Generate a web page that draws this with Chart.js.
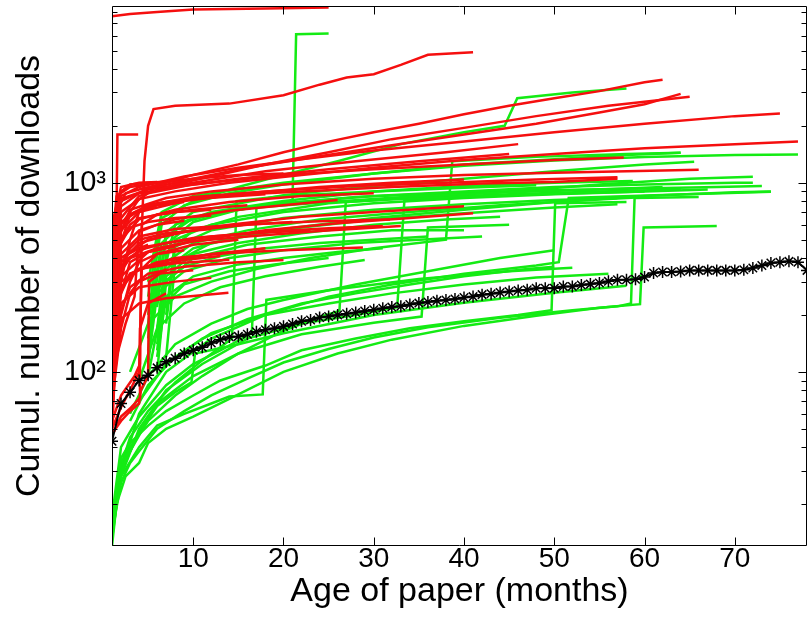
<!DOCTYPE html>
<html><head><meta charset="utf-8">
<script src="https://cdn.jsdelivr.net/npm/chart.js@4.4.1/dist/chart.umd.min.js"></script>
<style>html,body{margin:0;padding:0;background:#fff;overflow:hidden}</style>
</head><body>
<canvas id="c" width="809" height="626"></canvas>
<script>
// ---- data ----
const months = [1,2,3,4,5,6,7,8,9,10,11,12,13,14,15,16,17,18,19,20,21,22,23,24,25,26,27,28,29,30,31,32,33,34,35,36,37,38,39,40,41,42,43,44,45,46,47,48,49,50,51,52,53,54,55,56,57,58,59,60,61,62,63,64,65,66,67,68,69,70,71,72,73,74,75,76,77,78];
const meanDownloads = [43,68,78,90,96,105,113,118,125,130,135,142,148,153,154,158,163,167,170,174,179,185,188,194,196,200,203,206,210,213,217,220,222,227,231,234,238,240,243,247,250,256,259,263,266,269,272,277,277,277,283,283,288,291,295,301,307,307,309,317,333,337,337,339,344,344,344,344,344,344,347,354,365,376,380,384,380,344];

const xTickValues = [10,20,30,40,50,60,70];
const yTickValues = [100,1000];
const yTickLabels = ['10\u00B2','10\u00B3'];
const yMinorTicks = [20,30,40,50,60,70,80,90,200,300,400,500,600,700,800,900,2000,3000,4000,5000,6000,7000,8000];

// each paper: list of [month, cumulative downloads]
const redPapers = [
  [[1,7600],[3,7800],[6,8000],[10,8250],[18,8350],[25,8450]],
  [[4.2,420],[4.6,1300],[5.0,2000],[5.6,2450],[8,2550],[14,2620],[20,2900],[24,3300],[27,3600],[30,3750],[33,4200],[36,4750],[41,4900]],
  [[1.4,250],[1.6,1800],[3.9,1800]],
  [[1,300],[1.5,700],[2.5,880],[4,920],[7,1000],[10,1100],[15,1250],[20,1450],[25,1650],[30,1850],[35,2050],[40,2300],[45,2550],[50,2800],[55,3050],[60,3400],[62,3500]],
  [[1,250],[2,650],[4,850],[8,980],[12,1080],[18,1250],[25,1450],[32,1700],[40,1950],[48,2250],[56,2550],[62,2750],[65,2850]],
  [[1,380],[2,800],[5,930],[10,1050],[16,1200],[24,1380],[32,1580],[40,1800],[48,2050],[55,2350],[60,2600],[64,2950]],
  [[1,320],[2,850],[4,950],[9,1080],[15,1200],[22,1330],[30,1480],[40,1650],[50,1850],[60,2050],[70,2250],[75,2320]],
  [[1,220],[2,600],[4,820],[8,900],[14,1000],[22,1100],[30,1200],[40,1320],[50,1420],[60,1520],[70,1600],[77,1650]],
  [[1,160],[2,550],[3,720],[7,830],[12,900],[20,980],[30,1050],[40,1100],[50,1130],[58,1150],[66,1170]],
  [[1,260],[2,620],[5,760],[10,840],[18,900],[28,960],[38,1000],[48,1040],[57,1070]],
  [[2,480],[3,680],[6,780],[12,850],[22,900],[32,950],[42,990],[50,1010],[57,1050]],
  [[1,280],[2,700],[5,880],[10,980],[20,1100],[30,1180],[40,1250],[50,1320],[57.7,1360]],
  [[1,140],[2,380],[4,480],[8,540],[14,600],[22,660],[30,700],[36,730],[40,750]],
  [[1,110],[2,320],[5,430],[10,490],[18,560],[26,610],[34,650],[41,690]],
  [[1,170],[2,450],[4,560],[8,640],[14,710],[20,760],[26,810]],
  [[1,95],[2,280],[4,350],[8,400],[14,425],[20,440],[28.8,455]],
  [[1,75],[2,190],[4,230],[7,245],[10,252],[13.9,262]],
  [[1,125],[2,340],[3,400],[6,450],[10,490],[16,520],[24,555],[33,590]],
  [[1,130],[2,300],[4,350],[8,375],[14,391]],
  [[1,100],[2,230],[4,280],[8,300],[12,314]],
  [[1,150],[2,420],[4,520],[8,570],[15,600],[24,625],[31.8,640]],
  [[1,120],[2,380],[5,460],[10,510],[18,550],[25,575],[31,590]],
  [[1,450],[1.5,850],[3,950],[6,1000],[10,1050],[15,1100],[20,1120]],
  [[1,500],[2,900],[3,980],[5,1000],[8,1020]],
  [[1,600],[2,950],[4,1000],[6,1010]],
  [[1,45],[1.3,100],[2,200],[3,300],[4,380],[6,420],[9,440]],
  [[1,50],[2,65],[3,80],[4,100],[4.3,350],[6,420],[10,470],[15,500]],
  [[1,55],[2,75],[3.5,95],[4.1,110],[4.3,600],[6,680],[10,720],[16,760]],
  [[1,60],[1.5,120],[2.5,180],[3.5,250],[4,550],[6,600],[9,630]],
  [[1,70],[2,170],[3,260],[4,300],[6,330],[10,345]],
  [[1,200],[2,480],[3,580],[5,620],[8,650],[12,670]],
  [[1,300],[2,560],[3,680],[5,760],[10,820],[18,870]],
  [[1,90],[2,260],[3,380],[5,430],[8,460]],
  [[1,47],[2,55],[3,62],[4,68],[4.2,80],[5,95],[5.1,300],[7,350]],
  [[1.2,48],[2,58],[3,64],[4,72],[4.1,170],[5,230],[7,260]],
  [[1,80],[1.5,200],[2,350],[3,450],[4,500],[7,540],[12,570]],
  [[1,65],[1.5,150],[2,300],[3,500],[4,700],[6,760],[9,790]],
  [[1,110],[1.5,300],[2,500],[3,600],[4,650],[8,700],[12,720]],
  [[1,150],[1.5,350],[2,400],[4,450],[5,470]],
  [[1,350],[2,750],[4,880],[8,950],[15,1050],[25,1180],[35,1300],[45,1420]],
  [[1,420],[2,820],[5,920],[10,1000],[18,1150],[28,1300],[38,1450],[46,1600]],
  [[1,230],[2,560],[4,700],[9,800],[16,880],[24,950],[32,1000],[40,1040]],
  [[1,190],[2,500],[4,640],[8,720],[14,790],[22,850],[30,880]],
  [[1,105],[2,270],[3,330],[6,380],[12,420],[18,450]],
  [[1,85],[2,210],[3,280],[5,330],[9,360],[15,380],[20,390]],
  [[1,135],[2,360],[4,440],[7,480],[12,520],[18,545],[23,560]],
  [[1,160],[2,400],[5,500],[10,560],[16,600],[21,620]],
  [[2,260],[3,330],[5,360],[9,390],[13,410]]
];

const greenPapers = [
  [[1,12],[1.5,20],[2.5,28],[4,33],[5,42],[7,50],[10,58],[14,72],[20,100],[26,125],[32,148],[40,175],[48,198],[55,218],[59.5,228],[59.9,580],[68,590]],
  [[1,14],[2,26],[3,33],[4,38],[6,50],[9,62],[12,75],[16,92],[20,112],[25,132],[30,152],[36,172],[44,193],[52,212],[57,222],[58.5,230],[58.9,830],[66,840]],
  [[1,16],[2,35],[3,42],[5,52],[7,62],[10,75],[13,90],[18,108],[22,130],[28,150],[34,170],[40,185],[46,200],[49.7,212],[50.1,780],[58,790]],
  [[1,15],[2,32],[3,45],[5,62],[8,88],[11,115],[14.3,150],[14.8,800],[20,850],[30,900],[40,940],[48,970]],
  [[1,17],[2,40],[4,58],[7,85],[10,110],[13,130],[16.5,160],[17,740],[25,790],[35,850],[45,890],[55,920],[62,950]],
  [[1.5,25],[3,40],[5,55],[8,75],[11,95],[15,125],[20,165],[24,195],[26.2,210],[26.9,790],[35,830],[45,870],[55,900],[64,920]],
  [[2,28],[4,50],[7,80],[11,110],[16,150],[22,180],[28,200],[32.6,220],[33.4,810],[42,850],[52,880],[60,900]],
  [[3,38],[6,68],[10,95],[15,125],[22,158],[30,182],[35.3,196],[36,580],[45,600]],
  [[3,100],[5,180],[8,250],[12,300],[17,350],[23,400],[30,450],[38,500],[38.7,1300],[48,1370],[58,1420],[64,1440]],
  [[2,30],[4,60],[7,100],[12,150],[18,200],[25,250],[32,290],[40,330],[48,365],[50.5,380],[51.6,830],[62,860],[74,895]],
  [[1,13],[2,30],[4,48],[6,66],[8,78],[9.8,88],[10.2,125],[15,140],[20,160],[30,200],[40,232],[50,262],[58,285]],
  [[1,14],[2,28],[4,40],[6,52],[9,60],[12,68],[14,74],[17.7,76],[18.1,240],[25,270],[35,310],[45,340],[52,355]],
  [[5,150],[6.5,450],[10,620],[15,720],[21,800],[21.4,6100],[25,6150]],
  [[5,250],[6.5,650],[10,800],[15,950],[20,1100],[26,1300],[33,1600],[40,1850],[44.5,2000],[45.9,2800],[52,3000],[58,3150]],
  [[5,200],[6.5,600],[9,760],[14,880],[20,980],[30,1120],[40,1230],[50,1310],[60,1370],[70,1400],[77,1410]],
  [[5,180],[6.5,480],[9,620],[13,700],[20,780],[30,850],[40,900],[50,950],[60,980],[70,1000],[72,1000]],
  [[6,160],[7,420],[10,560],[15,660],[25,780],[35,840],[45,900],[55,980],[65,1050],[72,1077]],
  [[7,120],[8,380],[12,480],[20,570],[30,650],[40,720],[50,790],[60,850],[70,890],[74,900]],
  [[5,300],[6.5,700],[10,850],[20,1000],[30,1120],[40,1250],[50,1330],[58,1400],[64,1440]],
  [[6,250],[7,550],[10,700],[20,860],[30,960],[40,1050],[50,1150],[60,1250],[65.5,1290]],
  [[6,140],[7,350],[10,450],[15,520],[22,580],[30,640],[40,690],[50,740],[57,770]],
  [[6.5,300],[8,600],[12,700],[20,800],[30,900],[40,960],[50,1000],[58.7,1020]],
  [[7,200],[8,500],[12,600],[20,700],[30,780],[40,830],[50,870],[60,900],[67,920]],
  [[6,100],[7,300],[10,400],[16,470],[24,520],[32,560],[40,560]],
  [[3,60],[5,95],[8,140],[12,180],[16,215],[20,240],[28,290],[36,340],[44,400],[50,440]],
  [[3,55],[5,85],[8,120],[12,160],[18,200],[25,230],[32,260],[40,290],[48,315],[56,330]],
  [[4,70],[7,110],[11,150],[16,190],[22,230],[28,260],[34,290],[40,320],[47,350],[50,360]],
  [[6,220],[7,520],[10,650],[18,760],[28,840],[38,880],[48,910],[58,930],[68,950],[73,960]],
  [[7,180],[8,460],[12,560],[20,650],[30,720],[40,770],[50,810],[57,830]],
  [[6,130],[7,320],[10,420],[15,480],[22,540],[30,600],[38,640],[44,660]],
  [[5,110],[6,260],[9,340],[14,400],[20,440],[28,480],[35,500],[42,520]],
  [[4,90],[6,170],[9,230],[13,280],[18,320],[24,360],[29,390]],
  [[6,170],[7,380],[10,480],[16,560],[24,640],[34,700],[44,760],[54,810],[60,840]],
  [[5,130],[6,280],[9,360],[13,410],[18,450],[24,480],[30,500],[36,520]],
  [[6,120],[7,250],[10,320],[15,370],[20,400],[26,430],[31,450]],
  [[5,95],[6.5,220],[9,290],[14,340],[19,370],[25,400]]
];

// ---- chart ----
const FONT = '"Liberation Sans", Arial, Helvetica, sans-serif';
const RED = 'rgb(245,15,15)';
const GREEN = 'rgb(20,235,20)';

const toPts = arr => arr.map(([x, y]) => ({x, y}));
const datasets = [];
datasets.push({
  data: months.map((m, i) => ({x: m, y: meanDownloads[i]})),
  borderColor: '#000', borderWidth: 2, pointStyle: 'star', pointRadius: 6,
  pointBorderWidth: 1.5, pointBorderColor: '#000', pointBackgroundColor: '#000',
  tension: 0, fill: false, clip: 0
});
redPapers.forEach(p => datasets.push({data: toPts(p), borderColor: RED, borderWidth: 2.5, pointRadius: 0, tension: 0, fill: false, clip: 0}));
greenPapers.forEach(p => datasets.push({data: toPts(p), borderColor: GREEN, borderWidth: 2.5, pointRadius: 0, tension: 0, fill: false, clip: 0}));

const axesBox = {
  id: 'axesBox',
  afterDraw(chart) {
    const {ctx, chartArea: a} = chart;
    const xs = chart.scales.x, ys = chart.scales.y;
    const L = a.left + 0.5, R = a.right - 0.5, T = a.top + 0.5, B = a.bottom - 0.5;
    ctx.save();
    ctx.strokeStyle = '#000'; ctx.lineWidth = 1;
    ctx.beginPath();
    ctx.rect(L, T, R - L, B - T);
    xTickValues.forEach(v => {
      const p = Math.round(xs.getPixelForValue(v)) + 0.5;
      ctx.moveTo(p, B); ctx.lineTo(p, B - 8);
      ctx.moveTo(p, T); ctx.lineTo(p, T + 8);
    });
    yTickValues.forEach(v => {
      const p = Math.round(ys.getPixelForValue(v)) + 0.5;
      ctx.moveTo(L, p); ctx.lineTo(L + 8, p);
      ctx.moveTo(R, p); ctx.lineTo(R - 8, p);
    });
    yMinorTicks.forEach(v => {
      const p = Math.round(ys.getPixelForValue(v)) + 0.5;
      ctx.moveTo(L, p); ctx.lineTo(L + 5, p);
      ctx.moveTo(R, p); ctx.lineTo(R - 5, p);
    });
    ctx.stroke();
    ctx.restore();
  }
};

const noPad = s => { s.paddingTop = 0; s.paddingBottom = 0; s.paddingLeft = 0; s.paddingRight = 0; };

new Chart(document.getElementById('c'), {
  type: 'line',
  data: {datasets},
  plugins: [axesBox],
  options: {
    responsive: false, animation: false, events: [],
    layout: {autoPadding: false, padding: {left: 0, right: 2, top: 6, bottom: 0}},
    plugins: {legend: {display: false}, tooltip: {enabled: false}},
    scales: {
      x: {
        type: 'linear', min: 1, max: 78,
        grid: {display: false, drawTicks: false}, border: {display: false},
        afterBuildTicks: s => { s.ticks = xTickValues.map(v => ({value: v})); },
        afterFit: s => { s.height = 80; noPad(s); },
        ticks: {font: {family: FONT, size: 28}, color: '#000', padding: -4, maxRotation: 0, autoSkip: false},
        title: {display: true, text: 'Age of paper (months)', font: {family: FONT, size: 34}, color: '#000', padding: {top: 0, bottom: 14}}
      },
      y: {
        type: 'logarithmic', min: 12, max: 8600,
        grid: {display: false, drawTicks: false}, border: {display: false},
        afterBuildTicks: s => { s.ticks = yTickValues.map(v => ({value: v})); },
        afterFit: s => { s.width = 112; noPad(s); },
        ticks: {font: {family: FONT, size: 29}, color: '#000', padding: 6, autoSkip: false,
                callback: (v, i) => yTickLabels[i]},
        title: {display: true, text: 'Cumul. number of downloads', font: {family: FONT, size: 34}, color: '#000', padding: {top: 9, bottom: 0}}
      }
    }
  }
});
</script>
</body></html>
